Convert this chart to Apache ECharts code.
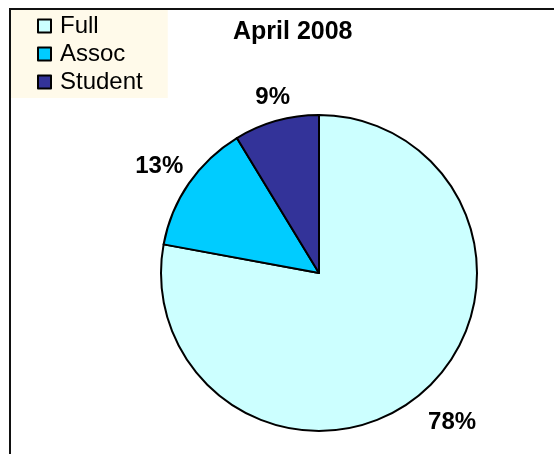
<!DOCTYPE html>
<html>
<head>
    <meta charset="utf-8">
    <title>April 2008</title>
    <script src="https://cdn.jsdelivr.net/npm/echarts@6/dist/echarts.min.js"></script>
    <style>
        body { margin: 0; background: #fff; }
        #frame { position: absolute; left: 9px; top: 8px; width: 600px; height: 500px;
                 border-top: 2px solid #111; border-left: 2px solid #111; }
        #main { position: absolute; left: 0; top: 0; width: 554px; height: 454px; }
    </style>
</head>
<body>
<div id="frame"></div>
<div id="main"></div>

<script type="text/javascript">
    // 数据
    var leixing = ['Full', 'Assoc', 'Student'];
    var zhi = [77.9, 13.4, 8.7];
    var yanse = ['#CCFFFF', '#00CCFF', '#333399'];
    // 标签微调 (offset)
    var biaoqianOffset = [[9, 0], [0, 3], [6, 11]];

    var shuju = [];
    var biaoqian = [];
    for (var i = 0; i < leixing.length; i++) {
        shuju.push({ name: leixing[i], value: zhi[i], itemStyle: { color: yanse[i] } });
        biaoqian.push({ name: leixing[i], value: zhi[i], label: { offset: biaoqianOffset[i] } });
    }

    var myChart = echarts.init(document.getElementById('main'));
    myChart.setOption({
        backgroundColor: 'transparent',
        animation: false,
        title: {
            text: 'April 2008',
            left: 233,
            top: 20,
            padding: 0,
            textStyle: { fontFamily: 'Liberation Sans', fontSize: 25, fontWeight: 'bold', color: '#000' }
        },
        legend: {
            orient: 'vertical',
            left: 11,
            top: 10,
            data: leixing,
            backgroundColor: '#FFFAEA',
            padding: [4, 25, 4, 26],
            itemWidth: 13,
            itemHeight: 13,
            itemGap: 4,
            icon: 'rect',
            itemStyle: { borderColor: '#000', borderWidth: 2 },
            textStyle: { fontFamily: 'Liberation Sans', fontSize: 24, color: '#000', padding: [0, 0, 0, 4] }
        },
        series: [
            {
                type: 'pie',
                center: [319, 273],
                radius: 158,
                startAngle: 90,
                clockwise: true,
                silent: true,
                itemStyle: { borderColor: '#000', borderWidth: 2 },
                label: { show: false },
                labelLine: { show: false },
                data: shuju
            },
            {
                // 透明的环，只用来放百分比标签
                type: 'pie',
                center: [319, 273],
                radius: [176, 206],
                startAngle: 90,
                clockwise: true,
                silent: true,
                itemStyle: { color: 'transparent', borderWidth: 0 },
                label: {
                    show: true,
                    position: 'inside',
                    formatter: function (p) { return Math.round(p.value) + '%'; },
                    fontFamily: 'Liberation Sans',
                    fontSize: 24,
                    fontWeight: 'bold',
                    color: '#000'
                },
                labelLine: { show: false },
                data: biaoqian
            }
        ]
    });
</script>
</body>
</html>
